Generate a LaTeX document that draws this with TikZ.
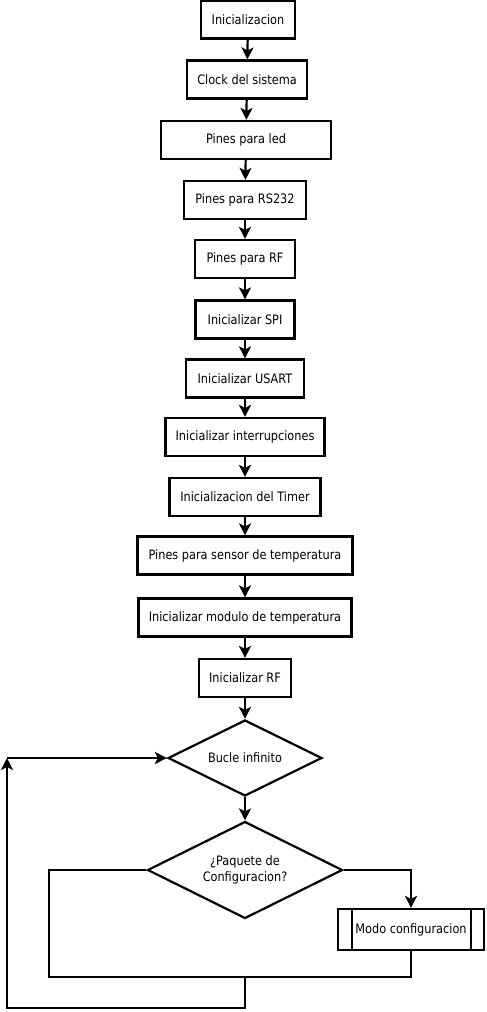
\documentclass[tikz,border=0pt]{standalone}
\usepackage{fontspec}
\setmainfont{DejaVu Sans}[FakeStretch=0.87]
\usetikzlibrary{arrows.meta,shapes.geometric}

\tikzset{
    paso/.style={draw, line width=2.2pt, minimum height=38pt, inner sep=0pt,
        font=\fontsize{13}{15.6}\selectfont},
    decision/.style={draw, diamond, aspect=2, line width=2.2pt, inner sep=0pt,
        align=center, font=\fontsize{13}{15.6}\selectfont},
    flecha/.style={line width=2.2pt, -{Stealth[length=12pt,width=12pt,inset=3pt]}},
    linea/.style={line width=2.2pt}
}

\begin{document}
\begin{tikzpicture}[x=1pt,y=-1pt]
        \useasboundingbox (0,0) rectangle (487,1012);

        % secuencia de inicializacion
        \node[paso, minimum width=94pt] (ini) at (248,19.5) {Inicializacion};
        \node[paso, minimum width=120pt] (clock) at (247,79.5) {Clock del sistema};
        \node[paso, minimum width=170pt] (led) at (246,140) {Pines para led};
        \node[paso, minimum width=122pt] (rs) at (245,200) {Pines para RS232};
        \node[paso, minimum width=100pt] (pinrf) at (245,259) {Pines para RF};
        \node[paso, minimum width=99pt] (spi) at (245,319.5) {Inicializar SPI};
        \node[paso, minimum width=118pt] (usart) at (245,378.5) {Inicializar USART};
        \node[paso, minimum width=159pt] (inter) at (245,437) {Inicializar interrupciones};
        \node[paso, minimum width=151pt] (timer) at (245,497) {Inicializacion del Timer};
        \node[paso, minimum width=215pt] (sensor) at (245,555.5) {Pines para sensor de temperatura};
        \node[paso, minimum width=213pt] (modtemp) at (245,617.5) {Inicializar modulo de temperatura};
        \node[paso, minimum width=92pt] (inirf) at (245,678) {Inicializar RF};

        % lazo principal
        \node[decision, minimum width=154pt, minimum height=76pt] (bucle) at (245,758) {Bucle infinito};
        \node[decision, minimum width=195pt, minimum height=97pt] (paquete) at (245,870) {¿Paquete de\\Configuracion?};
        \node[paso, minimum width=146pt, minimum height=41pt] (modo) at (411,929.5) {Modo configuracion};
        \draw[linea] ([xshift=15pt]modo.north west) -- ([xshift=15pt]modo.south west);
        \draw[linea] ([xshift=-14pt]modo.north east) -- ([xshift=-14pt]modo.south east);

        \coordinate (nolado) at (49,977);
        \coordinate (union) at (245,977);
        \coordinate (retorno) at (7,1008);
        \coordinate (esquina) at (7,758);

        \draw[flecha] (ini) -- (clock);
        \draw[flecha] (clock) -- (led);
        \draw[flecha] (led) -- (rs);
        \draw[flecha] (rs) -- (pinrf);
        \draw[flecha] (pinrf) -- (spi);
        \draw[flecha] (spi) -- (usart);
        \draw[flecha] (usart) -- (inter);
        \draw[flecha] (inter) -- (timer);
        \draw[flecha] (timer) -- (sensor);
        \draw[flecha] (sensor) -- (modtemp);
        \draw[flecha] (modtemp) -- (inirf);
        \draw[flecha] (inirf) -- (bucle);
        \draw[flecha] (bucle) -- (paquete);

        \draw[flecha] (paquete.east) -| (modo.north);
        \draw[linea] (modo.south) |- (nolado) |- (paquete.west);
        \draw[flecha] (union) |- (retorno) -- (esquina);
        \draw[flecha] (esquina) -- (bucle.west);
    \end{tikzpicture}
\end{document}
